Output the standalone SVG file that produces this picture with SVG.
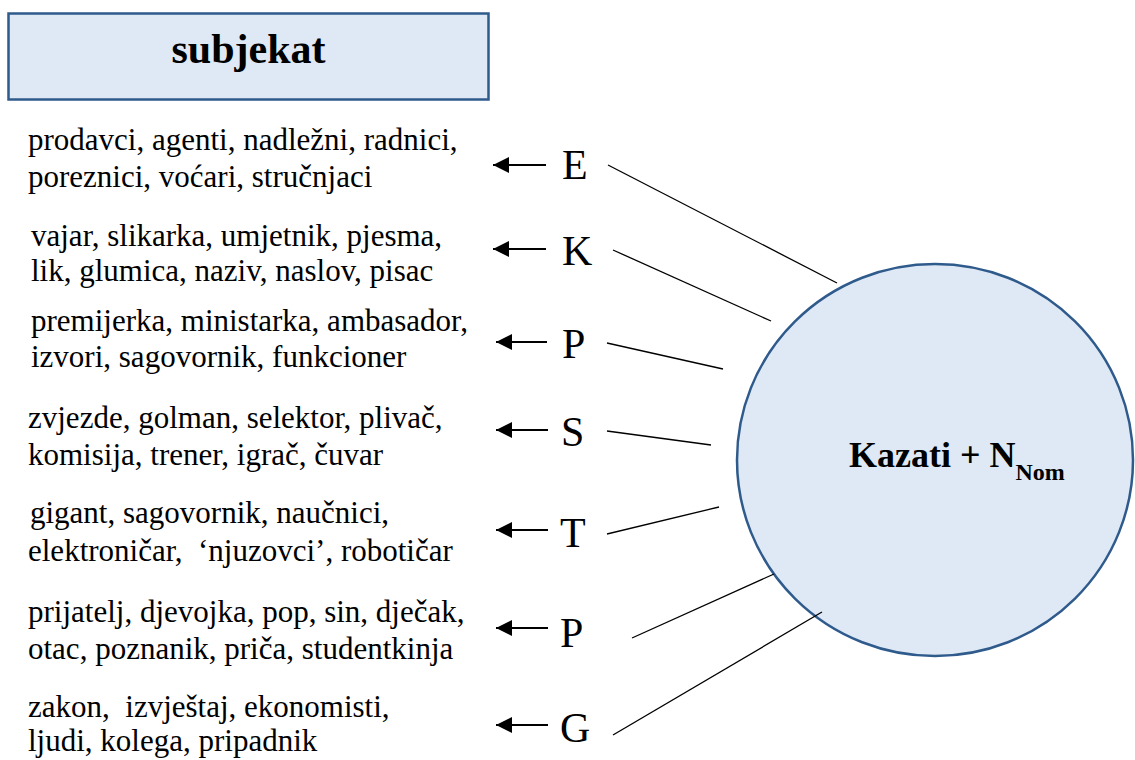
<svg xmlns="http://www.w3.org/2000/svg" width="1135" height="760" viewBox="0 0 1135 760" font-family="'Liberation Serif', 'DejaVu Serif', serif">
  <style>
    text { font-family: 'Liberation Serif', 'DejaVu Serif', serif; fill: #000; }
    .list { font-size: 31px; white-space: pre; }
    .letter { font-size: 42px; }
    .title { font-size: 42px; font-weight: bold; }
    .core { font-size: 36px; font-weight: bold; }
    .sub { font-size: 24px; }
    .shape { fill: #DEE9F5; stroke: #2F5A8C; stroke-width: 2.5; }
    .ray { stroke: #000; stroke-width: 1.3; fill: none; }
    .arrow { stroke: #000; stroke-width: 2; fill: none; marker-end: url(#head); }
  </style>
  <defs>
    <marker id="head" viewBox="0 0 16 16" refX="16" refY="8" markerWidth="16" markerHeight="16" markerUnits="userSpaceOnUse" orient="auto">
      <path d="M0,0 L16,8 L0,16 z" fill="#000"/>
    </marker>
  </defs>

  <rect x="0" y="0" width="1135" height="760" fill="#fff"/>

  <!-- header box -->
  <g id="subjekat">
    <rect class="shape" x="8.5" y="13.5" width="480" height="86"/>
    <text class="title" x="248.5" y="63" text-anchor="middle">subjekat</text>
  </g>

  <!-- central circle -->
  <g id="kazati">
    <ellipse class="shape" cx="935" cy="460" rx="198" ry="196"/>
    <text class="core" x="849" y="467">Kazati + N<tspan class="sub" y="480">Nom</tspan></text>
  </g>

  <!-- word lists -->
  <g id="list-e">
    <text class="list" x="28" y="150">prodavci, agenti, nadležni, radnici,</text>
    <text class="list" x="28" y="187">poreznici, voćari, stručnjaci</text>
  </g>
  <g id="list-k">
    <text class="list" x="31" y="246">vajar, slikarka, umjetnik, pjesma,</text>
    <text class="list" x="31" y="281">lik, glumica, naziv, naslov, pisac</text>
  </g>
  <g id="list-p1">
    <text class="list" x="31" y="331">premijerka, ministarka, ambasador,</text>
    <text class="list" x="31" y="367">izvori, sagovornik, funkcioner</text>
  </g>
  <g id="list-s">
    <text class="list" x="28" y="428">zvjezde, golman, selektor, plivač,</text>
    <text class="list" x="28" y="465">komisija, trener, igrač, čuvar</text>
  </g>
  <g id="list-t">
    <text class="list" x="30" y="523">gigant, sagovornik, naučnici,</text>
    <text class="list" x="28" y="561">elektroničar,  ‘njuzovci’, robotičar</text>
  </g>
  <g id="list-p2">
    <text class="list" x="28" y="622">prijatelj, djevojka, pop, sin, dječak,</text>
    <text class="list" x="28" y="659">otac, poznanik, priča, studentkinja</text>
  </g>
  <g id="list-g">
    <text class="list" x="28" y="717">zakon,  izvještaj, ekonomisti,</text>
    <text class="list" x="28" y="751">ljudi, kolega, pripadnik</text>
  </g>

  <!-- case letters -->
  <g id="letter-e"><text class="letter" x="562" y="179">E</text></g>
  <g id="letter-k"><text class="letter" x="562" y="265">K</text></g>
  <g id="letter-p1"><text class="letter" x="562" y="358">P</text></g>
  <g id="letter-s"><text class="letter" x="561" y="446">S</text></g>
  <g id="letter-t"><text class="letter" x="560" y="547">T</text></g>
  <g id="letter-p2"><text class="letter" x="560" y="647">P</text></g>
  <g id="letter-g"><text class="letter" x="560" y="742">G</text></g>

  <!-- connectors -->
  <g id="connectors">
    <line class="arrow" x1="546" y1="165" x2="493" y2="165"/>
    <line class="arrow" x1="546" y1="249" x2="493" y2="249"/>
    <line class="arrow" x1="547" y1="342" x2="496" y2="342"/>
    <line class="arrow" x1="548" y1="430" x2="496" y2="430"/>
    <line class="arrow" x1="548" y1="530" x2="496" y2="530"/>
    <line class="arrow" x1="548" y1="628" x2="496" y2="628"/>
    <line class="arrow" x1="548" y1="725" x2="496" y2="725"/>

    <line class="ray" x1="608" y1="165" x2="837" y2="283"/>
    <line class="ray" x1="613" y1="250" x2="771" y2="321"/>
    <line class="ray" x1="607" y1="343" x2="723" y2="369"/>
    <line class="ray" x1="607" y1="431" x2="711" y2="445"/>
    <line class="ray" x1="607" y1="534" x2="719" y2="507"/>
    <line class="ray" x1="632" y1="638" x2="774" y2="574"/>
    <line class="ray" x1="613" y1="735" x2="822" y2="612"/>
  </g>
</svg>
